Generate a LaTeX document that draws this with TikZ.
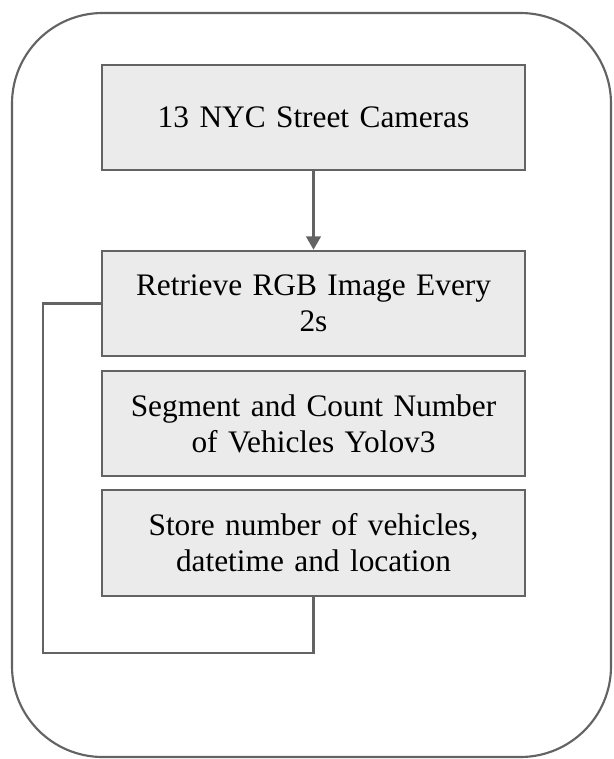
\documentclass[tikz,border=0pt]{standalone}
\usepackage{fontspec}
\setmainfont{Liberation Serif}
\usetikzlibrary{arrows.meta}
\definecolor{boxfill}{HTML}{EBEBEB}
\definecolor{edgegray}{HTML}{636363}
\tikzset{
  stepbox/.style={draw=edgegray, fill=boxfill, line width=1.7pt, minimum width=317pt, minimum height=79pt,
    inner sep=0pt, text width=310pt, align=center, font=\fontsize{23.5}{27}\selectfont},
  conn/.style={draw=edgegray, line width=1.7pt}
}
\begin{document}
\begin{tikzpicture}[x=0.75pt,y=-0.75pt]
\useasboundingbox (0,0) rectangle (613,759);
\draw[edgegray, line width=1.6pt, rounded corners=68pt] (12,13) rectangle (611,757);
\node[stepbox] (cam) at (313.5,117.5) {13 NYC Street Cameras};
\node[stepbox] (ret) at (313.5,303.5) {Retrieve RGB Image Every\\2s};
\node[stepbox] (seg) at (313.5,423.5) {Segment and Count Number\\of Vehicles Yolov3};
\node[stepbox] (sto) at (313.5,543) {Store number of vehicles,\\datetime and location};
\coordinate (l2) at (43,653);
\draw[conn, -{Triangle[length=10pt,width=11pt]}] (cam.south) -- (ret.north);
\draw[conn] (ret.west) -| (l2) -| (sto.south);
\end{tikzpicture}
\end{document}
